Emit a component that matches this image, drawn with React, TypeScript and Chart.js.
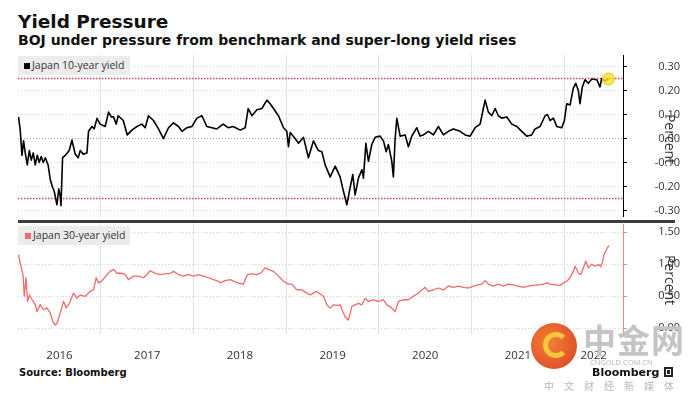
import React, { useEffect, useRef } from "react";
import { Chart, registerables } from "chart.js";

Chart.register(...registerables);

// ---------- data (decimal years, percent) ----------
const tenYearDates = [
  2016.111, 2016.129, 2016.148, 2016.165, 2016.183, 2016.205, 2016.227, 2016.248, 2016.270, 2016.291,
  2016.313, 2016.334, 2016.356, 2016.378, 2016.400, 2016.430, 2016.453, 2016.475, 2016.496, 2016.525,
  2016.545, 2016.561, 2016.569, 2016.586, 2016.615, 2016.636, 2016.658, 2016.687, 2016.701, 2016.723,
  2016.755, 2016.777, 2016.809, 2016.849, 2016.866, 2016.903, 2016.928, 2016.957, 2016.992, 2017.046,
  2017.082, 2017.111, 2017.136, 2017.165, 2017.187, 2017.241, 2017.284, 2017.334, 2017.388, 2017.442,
  2017.478, 2017.513, 2017.567, 2017.621, 2017.675, 2017.729, 2017.783, 2017.837, 2017.874, 2017.928,
  2017.982, 2018.036, 2018.090, 2018.143, 2018.197, 2018.251, 2018.319, 2018.373, 2018.427, 2018.503,
  2018.557, 2018.589, 2018.629, 2018.683, 2018.737, 2018.791, 2018.826, 2018.862, 2018.916, 2018.970,
  2019.006, 2019.024, 2019.042, 2019.096, 2019.132, 2019.186, 2019.239, 2019.293, 2019.347, 2019.384,
  2019.420, 2019.474, 2019.528, 2019.581, 2019.617, 2019.654, 2019.689, 2019.718, 2019.743, 2019.779,
  2019.816, 2019.833, 2019.859, 2019.887, 2019.923, 2019.959, 2020.013, 2020.049, 2020.078, 2020.102,
  2020.139, 2020.156, 2020.175, 2020.193, 2020.229, 2020.283, 2020.318, 2020.355, 2020.409, 2020.444,
  2020.480, 2020.534, 2020.588, 2020.642, 2020.696, 2020.750, 2020.804, 2020.876, 2020.930, 2020.984,
  2021.038, 2021.092, 2021.127, 2021.146, 2021.181, 2021.218, 2021.254, 2021.289, 2021.326, 2021.380,
  2021.434, 2021.488, 2021.541, 2021.595, 2021.649, 2021.685, 2021.739, 2021.793, 2021.818, 2021.847,
  2021.883, 2021.919, 2021.973, 2022.001, 2022.027, 2022.063, 2022.098, 2022.124, 2022.152, 2022.170,
  2022.195, 2022.224, 2022.260, 2022.297, 2022.351, 2022.386, 2022.404, 2022.437, 2022.476,
];
const tenYearYields = [
  0.09, 0.035, -0.07, -0.01, -0.06, -0.11, -0.05, -0.09, -0.06, -0.11,
  -0.07, -0.1, -0.075, -0.1, -0.08, -0.11, -0.17, -0.2, -0.22, -0.276,
  -0.21, -0.24, -0.28, -0.08, -0.07, -0.06, -0.05, -0.006, -0.03, -0.065,
  -0.08, -0.05, -0.065, -0.06, 0.03, 0.05, 0.04, 0.084, 0.06, 0.05,
  0.11, 0.09, 0.09, 0.06, 0.095, 0.075, 0.015, 0.035, 0.05, 0.06,
  0.045, 0.095, 0.075, 0.04, 0.0, 0.045, 0.065, 0.05, 0.03, 0.045,
  0.05, 0.085, 0.095, 0.05, 0.045, 0.04, 0.06, 0.045, 0.05, 0.035,
  0.045, 0.125, 0.095, 0.12, 0.125, 0.16, 0.145, 0.125, 0.095, 0.045,
  0.03, -0.034, 0.025, 0.0, -0.02, 0.005, -0.08, -0.01, -0.05, -0.055,
  -0.11, -0.16, -0.115, -0.16, -0.22, -0.276, -0.205, -0.15, -0.235, -0.165,
  -0.13, -0.165, -0.02, -0.095, -0.025, 0.005, 0.01, -0.01, -0.055, -0.025,
  -0.095, -0.16, 0.0, 0.084, 0.01, 0.015, -0.034, 0.01, 0.045, 0.01,
  0.015, 0.03, 0.015, 0.05, 0.015, 0.03, 0.04, 0.03, 0.015, 0.01,
  0.045, 0.06, 0.125, 0.16, 0.11, 0.095, 0.125, 0.095, 0.085, 0.09,
  0.06, 0.05, 0.03, 0.01, 0.015, 0.04, 0.05, 0.095, 0.1, 0.075,
  0.085, 0.05, 0.045, 0.075, 0.145, 0.14, 0.21, 0.23, 0.2, 0.145,
  0.215, 0.245, 0.23, 0.248, 0.245, 0.215, 0.25, 0.24, 0.248,
];

const thirtyYearDates = [
  2016.111, 2016.129, 2016.159, 2016.173, 2016.191, 2016.208, 2016.230, 2016.256, 2016.291, 2016.310,
  2016.345, 2016.381, 2016.417, 2016.453, 2016.482, 2016.507, 2016.525, 2016.561, 2016.597, 2016.626,
  2016.661, 2016.704, 2016.741, 2016.777, 2016.831, 2016.885, 2016.920, 2016.949, 2016.974, 2017.011,
  2017.065, 2017.100, 2017.136, 2017.173, 2017.227, 2017.262, 2017.298, 2017.352, 2017.406, 2017.460,
  2017.496, 2017.532, 2017.586, 2017.640, 2017.694, 2017.748, 2017.783, 2017.837, 2017.891, 2017.945,
  2017.999, 2018.053, 2018.107, 2018.161, 2018.215, 2018.269, 2018.287, 2018.341, 2018.395, 2018.449,
  2018.503, 2018.538, 2018.557, 2018.581, 2018.629, 2018.683, 2018.726, 2018.772, 2018.808, 2018.862,
  2018.916, 2018.970, 2019.024, 2019.060, 2019.114, 2019.168, 2019.222, 2019.258, 2019.293, 2019.330,
  2019.366, 2019.401, 2019.438, 2019.474, 2019.509, 2019.546, 2019.581, 2019.611, 2019.635, 2019.671,
  2019.708, 2019.743, 2019.779, 2019.816, 2019.851, 2019.887, 2019.941, 2019.995, 2020.049, 2020.085,
  2020.121, 2020.175, 2020.210, 2020.264, 2020.318, 2020.372, 2020.426, 2020.444, 2020.498, 2020.534,
  2020.588, 2020.642, 2020.696, 2020.750, 2020.804, 2020.858, 2020.912, 2020.966, 2021.019, 2021.073,
  2021.110, 2021.146, 2021.181, 2021.235, 2021.289, 2021.343, 2021.397, 2021.451, 2021.505, 2021.559,
  2021.613, 2021.667, 2021.721, 2021.775, 2021.811, 2021.847, 2021.901, 2021.955, 2021.990, 2022.027,
  2022.063, 2022.098, 2022.117, 2022.135, 2022.152, 2022.178, 2022.207, 2022.232, 2022.260, 2022.297,
  2022.332, 2022.368, 2022.394, 2022.415, 2022.429, 2022.451, 2022.465, 2022.483,
];
const thirtyYearYields = [
  1.15, 1.02, 0.84, 0.5, 0.79, 0.42, 0.52, 0.45, 0.37, 0.26,
  0.37, 0.29, 0.32, 0.24, 0.1, 0.05, 0.08, 0.24, 0.42, 0.32,
  0.39, 0.55, 0.47, 0.52, 0.5, 0.58, 0.6, 0.79, 0.71, 0.74,
  0.84, 0.89, 0.92, 0.86, 0.86, 0.84, 0.76, 0.815, 0.815, 0.79,
  0.84, 0.9, 0.86, 0.84, 0.85, 0.86, 0.89, 0.84, 0.815, 0.84,
  0.815, 0.84, 0.815, 0.79, 0.76, 0.735, 0.71, 0.745, 0.76, 0.725,
  0.7, 0.69, 0.76, 0.84, 0.85, 0.84, 0.865, 0.945, 0.92, 0.89,
  0.815, 0.735, 0.69, 0.69, 0.6, 0.6, 0.55, 0.52, 0.55, 0.577,
  0.535, 0.5, 0.367, 0.315, 0.367, 0.357, 0.367, 0.26, 0.18, 0.13,
  0.34, 0.367, 0.39, 0.367, 0.47, 0.42, 0.446, 0.42, 0.446, 0.367,
  0.34, 0.26, 0.42, 0.446, 0.446, 0.5, 0.55, 0.577, 0.64, 0.577,
  0.6, 0.63, 0.6, 0.66, 0.64, 0.66, 0.64, 0.63, 0.66, 0.68,
  0.69, 0.745, 0.69, 0.66, 0.69, 0.66, 0.69, 0.68, 0.66, 0.64,
  0.66, 0.67, 0.68, 0.69, 0.71, 0.69, 0.68, 0.67, 0.71, 0.735,
  0.79, 0.89, 0.97, 0.92, 0.865, 0.84, 0.945, 1.05, 0.945, 1.0,
  0.97, 1.0, 0.96, 1.05, 1.155, 1.21, 1.26, 1.29,
];

const yearLabels = ["2016", "2017", "2018", "2019", "2020", "2021", "2022"];
const yearBoundaries = [2017, 2018, 2019, 2020, 2021, 2022];
const tenYearTicks = [-0.3, -0.2, -0.1, 0, 0.1, 0.2, 0.3];
const thirtyYearTicks = [0, 0.5, 1.0, 1.5];
const policyBand = [0.25, -0.25];

// ---------- axis bounds / styling ----------
const X_MIN = 2016.105;
const X_MAX = 2022.634;
const TOP_Y = { min: -0.327, max: 0.348 };
const BOT_Y = { min: -0.089, max: 1.63 };
const FONT = "'Open Sans', 'DejaVu Sans', sans-serif";
const BOLD = "'DejaVu Sans', Verdana, sans-serif";
const SALMON = "#f26a6a";
const CANVAS_W = 680;
const AXIS_W = 57;

function labelCenters(): number[] {
  return yearLabels.map((y) => {
    const yr = Number(y);
    const lo = Math.max(yr, X_MIN);
    const hi = Math.min(yr + 1, X_MAX);
    return (lo + hi) / 2;
  });
}

function gridXAxis(): any {
  return {
    type: "linear",
    min: X_MIN,
    max: X_MAX,
    position: "bottom",
    offset: false,
    afterBuildTicks: (s: any) => {
      s.ticks = yearBoundaries.map((v) => ({ value: v }));
    },
    afterFit: (s: any) => {
      s.height = 0;
      s.paddingLeft = 0;
      s.paddingRight = 0;
    },
    ticks: { display: false },
    grid: { color: "#e3e3e3", lineWidth: 1, drawTicks: false },
    border: { display: false },
  };
}

function yAxis(ticks: number[], range: { min: number; max: number }, axisColor: string, zeroDark: boolean): any {
  return {
    type: "linear",
    position: "right",
    min: range.min,
    max: range.max,
    afterBuildTicks: (s: any) => {
      s.ticks = ticks.map((v) => ({ value: v }));
    },
    afterFit: (s: any) => {
      s.width = AXIS_W;
      s.paddingTop = 0;
      s.paddingBottom = 0;
    },
    ticks: {
      callback: (v: any) => Number(v).toFixed(2),
      font: { family: FONT, size: 11 },
      color: "#333",
      padding: -3,
      crossAlign: "far",
      autoSkip: false,
    },
    grid: {
      color: (ctx: any) => (zeroDark && ctx.tick && ctx.tick.value === 0 ? "#9c9c9c" : "#d2d2d2"),
      lineWidth: 1,
      tickLength: 4,
      tickColor: axisColor,
      tickWidth: 1,
      tickBorderDash: [],
    },
    border: { display: true, color: axisColor, width: 1, dash: [1, 2] },
    title: { display: false },
  };
}

export default function App() {
  const topRef = useRef<HTMLCanvasElement | null>(null);
  const botRef = useRef<HTMLCanvasElement | null>(null);

  useEffect(() => {
    const lastIdx = tenYearYields.length - 1;
    const topChart = new Chart(topRef.current as HTMLCanvasElement, {
      type: "line",
      data: {
        datasets: [
          {
            data: tenYearDates.map((d, i) => ({ x: d, y: tenYearYields[i] })),
            borderColor: "#000",
            borderWidth: 1.6,
            borderJoinStyle: "round",
            tension: 0,
            pointRadius: (ctx: any) => (ctx.dataIndex === lastIdx ? 6 : 0),
            pointHoverRadius: 0,
            pointBackgroundColor: "rgba(250,224,40,0.8)",
            pointBorderColor: "rgba(236,196,0,0.9)",
            pointBorderWidth: 1,
          } as any,
          ...policyBand.map((v) => ({
            data: [
              { x: X_MIN, y: v },
              { x: X_MAX, y: v },
            ],
            borderColor: "#e2445c",
            borderWidth: 1.5,
            borderDash: [1.5, 1.5],
            pointRadius: 0,
          })),
        ],
      },
      options: {
        responsive: false,
        animation: false,
        events: [],
        layout: { autoPadding: false, padding: { left: 18, top: 5, right: 0, bottom: 0 } },
        plugins: { legend: { display: false }, tooltip: { enabled: false } },
        scales: {
          x: gridXAxis(),
          y: yAxis(tenYearTicks, TOP_Y, "#000", true),
        },
      } as any,
    });

    const centers = labelCenters();
    const botChart = new Chart(botRef.current as HTMLCanvasElement, {
      type: "line",
      data: {
        datasets: [
          {
            data: thirtyYearDates.map((d, i) => ({ x: d, y: thirtyYearYields[i] })),
            borderColor: SALMON,
            borderWidth: 1.3,
            borderJoinStyle: "round",
            tension: 0,
            pointRadius: 0,
          },
        ],
      },
      options: {
        responsive: false,
        animation: false,
        events: [],
        layout: { autoPadding: false, padding: { left: 18, top: 2, right: 0, bottom: 0 } },
        plugins: { legend: { display: false }, tooltip: { enabled: false } },
        scales: {
          x: gridXAxis(),
          xl: {
            type: "linear",
            min: X_MIN,
            max: X_MAX,
            position: "bottom",
            afterBuildTicks: (s: any) => {
              s.ticks = centers.map((v) => ({ value: v }));
            },
            afterFit: (s: any) => {
              s.height = 30;
              s.paddingLeft = 0;
              s.paddingRight = 0;
            },
            ticks: {
              callback: (_v: any, i: number) => yearLabels[i],
              font: { family: FONT, size: 11.5 },
              color: "#333",
              padding: 15,
              maxRotation: 0,
              autoSkip: false,
            },
            grid: { display: false, drawTicks: false },
            border: { display: false },
          },
          y: yAxis(thirtyYearTicks, BOT_Y, "#f08a8a", false),
        },
      } as any,
    });

    return () => {
      topChart.destroy();
      botChart.destroy();
    };
  }, []);

  const abs = (s: any) => ({ position: "absolute", whiteSpace: "nowrap", ...s }) as any;
  const axisTitle = (cy: number) =>
    abs({
      left: 670,
      top: cy,
      transform: "translate(-50%, -50%) rotate(90deg)",
      fontFamily: FONT,
      fontSize: 14,
      lineHeight: "16px",
      color: "#333",
    });

  return (
    <div style={abs({ left: 0, top: 0, width: 692, height: 396, background: "#fff", overflow: "hidden" })}>
      <div style={abs({ left: 18, top: 13, fontFamily: BOLD, fontWeight: 700, fontSize: 18.5, lineHeight: "18px", color: "#111" })}>
        Yield Pressure
      </div>
      <div style={abs({ left: 18, top: 33, fontFamily: BOLD, fontWeight: 700, fontSize: 14, lineHeight: "14px", color: "#111" })}>
        BOJ under pressure from benchmark and super-long yield rises
      </div>

      <canvas ref={topRef} width={CANVAS_W} height={167} style={abs({ left: 0, top: 50, width: CANVAS_W, height: 167 })} />
      <div style={abs({ left: 18, top: 220, width: 657, height: 3, background: "#3c3c3c" })} />
      <canvas ref={botRef} width={CANVAS_W} height={142} style={abs({ left: 0, top: 222, width: CANVAS_W, height: 142 })} />

      <div style={axisTitle(139)}>Percent</div>
      <div style={axisTitle(280)}>Percent</div>

      {/* legend boxes */}
      <div style={abs({ left: 18, top: 56, width: 112, height: 19, background: "#ececec" })}>
        <div style={abs({ left: 6, top: 7, width: 6, height: 6, background: "#000" })} />
        <div style={abs({ left: 14, top: 0, fontFamily: FONT, fontSize: 10.5, lineHeight: "19px", color: "#333" })}>
          Japan 10-year yield
        </div>
      </div>
      <div style={abs({ left: 18, top: 226, width: 112, height: 19, background: "#ececec" })}>
        <div style={abs({ left: 7, top: 7, width: 6, height: 6, background: SALMON })} />
        <div style={abs({ left: 15, top: 0, fontFamily: FONT, fontSize: 10.5, lineHeight: "19px", color: "#333" })}>
          Japan 30-year yield
        </div>
      </div>

      {/* footer */}
      <div style={abs({ left: 19, top: 367, fontFamily: BOLD, fontWeight: 700, fontSize: 10, lineHeight: "12px", color: "#111" })}>
        Source: Bloomberg
      </div>

      {/* watermark */}
      <div
        style={abs({
          left: 531,
          top: 323,
          width: 46,
          height: 46,
          borderRadius: "50%",
          background: "radial-gradient(circle at 40% 40%, #f27a2a, #d8361a)",
          opacity: 0.95,
        })}
      >
        <div style={abs({ left: 12, top: 9, width: 16, height: 16, borderRadius: "50%", border: "5px solid #f7c531", borderRightColor: "transparent" })} />
      </div>
      <div style={abs({ left: 583, top: 321, fontFamily: "'Noto Sans CJK SC'", fontWeight: 700, fontSize: 33, lineHeight: "37px", color: "#c4c4c4", letterSpacing: 1 })}>
        中金网
      </div>
      <div style={abs({ left: 590, top: 358, fontFamily: FONT, fontSize: 7.5, lineHeight: "8px", color: "#b5b5b5" })}>
        CNGOLD.COM.CN
      </div>
      <div style={abs({ left: 544, top: 380, fontFamily: "'Noto Sans CJK SC'", fontSize: 10, lineHeight: "12px", color: "#b8b8b8", letterSpacing: 10 })}>
        中文财经新媒体
      </div>

      <div style={abs({ left: 592, top: 366, fontFamily: BOLD, fontWeight: 700, fontSize: 11, lineHeight: "13px", color: "#111" })}>
        Bloomberg
      </div>
      <div style={abs({ left: 664, top: 367, width: 9, height: 10, background: "#222" })}>
        <div style={abs({ left: 2, top: 2, width: 3, height: 4, border: "1px solid #fff" })} />
      </div>
    </div>
  );
}
